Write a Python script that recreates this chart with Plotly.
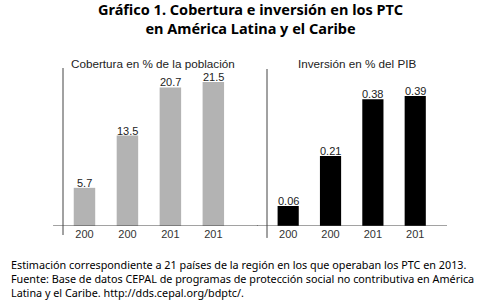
import plotly.graph_objects as go

years_labels = ["200", "200", "201", "201"]
cobertura = [5.7, 13.5, 20.7, 21.5]
inversion = [0.06, 0.21, 0.38, 0.39]
cob_text = ["5.7", "13.5", "20.7", "21.5"]
inv_text = ["0.06", "0.21", "0.38", "0.39"]

W, H = 480, 307
def px(x): return x / W
def py(y): return 1 - y / H

xs = list(range(len(years_labels)))
fig = go.Figure()
fig.add_trace(go.Bar(x=xs, y=cobertura,
                     marker=dict(color="#b3b3b3", line=dict(width=0)), width=0.5,
                     xaxis="x", yaxis="y", showlegend=False, hoverinfo="skip"))
fig.add_trace(go.Bar(x=xs, y=inversion,
                     marker=dict(color="#000000", line=dict(width=0)), width=0.5,
                     xaxis="x2", yaxis="y2", showlegend=False, hoverinfo="skip"))

lblfont = dict(family="Liberation Sans", size=11, color="#222")
for xv, yv, t in zip(xs, cobertura, cob_text):
    fig.add_annotation(x=xv, y=yv, text=t, xref="x", yref="y", showarrow=False,
                       xanchor="center", yanchor="bottom", yshift=-3, font=lblfont)
for xv, yv, t in zip(xs, inversion, inv_text):
    fig.add_annotation(x=xv, y=yv, text=t, xref="x2", yref="y2", showarrow=False,
                       xanchor="center", yanchor="bottom", yshift=-3, font=lblfont)

axfont = dict(family="Liberation Sans", size=11, color="#333")
fig.update_layout(
    width=W, height=H, margin=dict(l=0, r=0, t=0, b=0),
    paper_bgcolor="white", plot_bgcolor="white",
    bargap=0.5,
    xaxis=dict(domain=[px(63), px(258)], range=[-0.5, 4.04], tickvals=xs, ticktext=years_labels,
               showgrid=False, zeroline=False, showline=False, ticks="", tickfont=axfont, anchor="y"),
    yaxis=dict(domain=[py(226), py(68)], range=[0, 23.6], showgrid=False, zeroline=False,
               showline=False, showticklabels=False, ticks="", anchor="x"),
    xaxis2=dict(domain=[px(267), px(447)], range=[-0.5, 3.75], tickvals=xs, ticktext=years_labels,
                showgrid=False, zeroline=False, showline=False, ticks="", tickfont=axfont, anchor="y2"),
    yaxis2=dict(domain=[py(226), py(69)], range=[0, 0.471], showgrid=False, zeroline=False,
                showline=False, showticklabels=False, ticks="", anchor="x2"),
)

lc = "#444"
# axis lines
fig.add_shape(type="line", xref="x domain", yref="y", x0=-0.051, x1=1, y0=0, y1=0, line=dict(color=lc, width=1))
fig.add_shape(type="line", xref="x domain", yref="y domain", x0=0, x1=0, y0=-0.057, y1=1, line=dict(color=lc, width=1))
fig.add_shape(type="line", xref="x2 domain", yref="y2", x0=-0.056, x1=1, y0=0, y1=0, line=dict(color=lc, width=1))
fig.add_shape(type="line", xref="x2 domain", yref="y2 domain", x0=0, x1=0, y0=-0.076, y1=1, line=dict(color=lc, width=1))

fig.add_annotation(text="<b>Gráfico 1. Cobertura e inversión en los PTC<br>en América Latina y el Caribe</b>",
                   x=px(250), y=py(-3), xref="paper", yref="paper", xanchor="center", yanchor="top",
                   showarrow=False, font=dict(family="Noto Sans", size=14.5, color="black"))
fig.add_annotation(text="Cobertura en % de la población", x=px(153), y=py(64), xref="paper", yref="paper",
                   xanchor="center", yanchor="middle", showarrow=False,
                   font=dict(family="Liberation Sans", size=11.7, color="#222"))
fig.add_annotation(text="Inversión en % del PIB", x=px(357), y=py(64), xref="paper", yref="paper",
                   xanchor="center", yanchor="middle", showarrow=False,
                   font=dict(family="Liberation Sans", size=11.7, color="#222"))
fig.add_annotation(text="Estimación correspondiente a 21 países de la región en los que operaban los PTC en 2013.<br>"
                        "Fuente: Base de datos CEPAL de programas de protección social no contributiva en América<br>"
                        "Latina y el Caribe. http://dds.cepal.org/bdptc/.",
                   x=px(9), y=py(255), xref="paper", yref="paper", xanchor="left", yanchor="top", align="left",
                   showarrow=False, font=dict(family="Noto Sans", size=10.8, color="black"))

fig.write_html("out.html", config={"displayModeBar": False},
               post_script="document.body.style.margin='0';")
